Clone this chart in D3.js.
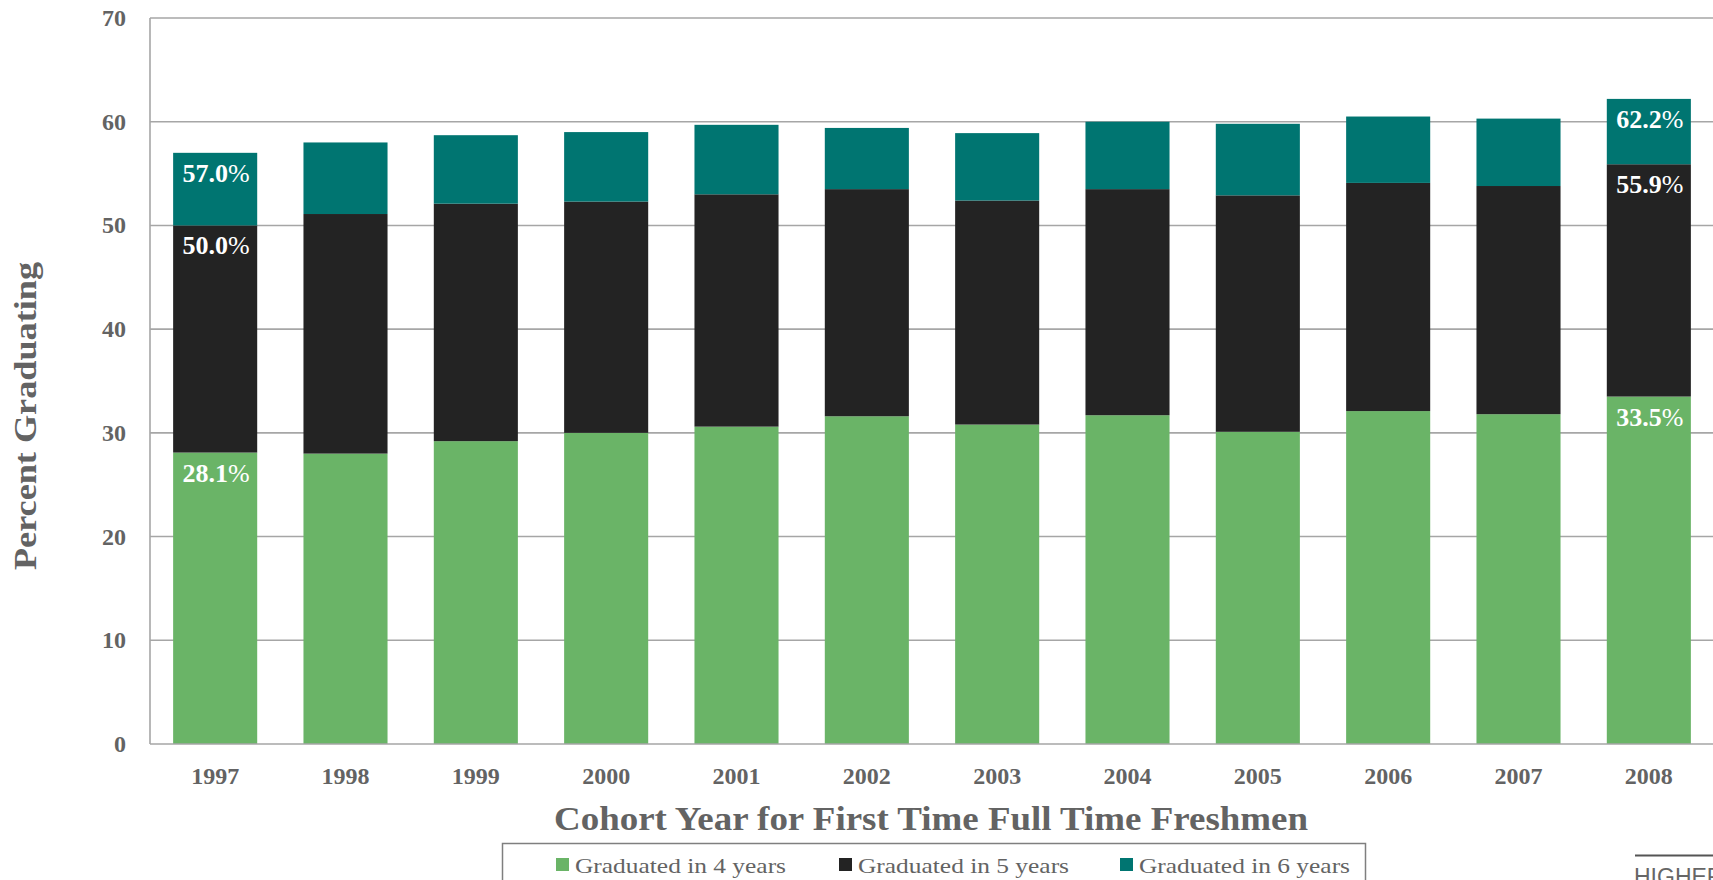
<!DOCTYPE html>
<html>
<head>
<meta charset="utf-8">
<script src="https://cdn.jsdelivr.net/npm/d3@7"></script>
<style>
  html, body { margin: 0; padding: 0; background: #fff; overflow: hidden; }
  svg { display: block; }
</style>
</head>
<body>
<svg id="chart" width="1713" height="880"></svg>
<script>
// ---- data (cumulative graduation rates, %) ----
const years = ["1997","1998","1999","2000","2001","2002","2003","2004","2005","2006","2007","2008"];
const grad4 = [28.1, 28.0, 29.2, 30.0, 30.6, 31.6, 30.8, 31.7, 30.1, 32.1, 31.8, 33.5];
const grad5 = [50.0, 51.1, 52.1, 52.3, 53.0, 53.5, 52.4, 53.5, 52.9, 54.1, 53.8, 55.9];
const grad6 = [57.0, 58.0, 58.7, 59.0, 59.7, 59.4, 58.9, 60.0, 59.8, 60.5, 60.3, 62.2];
const seriesNames = ["Graduated in 4 years", "Graduated in 5 years", "Graduated in 6 years"];
const yTicks = [0, 10, 20, 30, 40, 50, 60, 70];
const labelledYears = ["1997", "2008"];

(function () {
const colors = ["#6ab467", "#232323", "#007571"];
const gray = "#636363";
const gridColor = "#a6a6a6";
const serif = "'Liberation Serif', 'DejaVu Serif', serif";

const svg = d3.select("#chart");
const pLeft = 150, pRight = 1714, pTop = 18, pBottom = 744;

const x = d3.scaleBand().domain(years).range([pLeft, pRight]).paddingInner(0.355).paddingOuter(0.1775);
const y = d3.scaleLinear().domain([0, 70]).range([pBottom, pTop]);

// gridlines
svg.append("g").selectAll("line").data(yTicks.filter(d => d > 0)).join("line")
  .attr("x1", pLeft).attr("x2", 1713)
  .attr("y1", d => y(d)).attr("y2", d => y(d))
  .attr("stroke", gridColor).attr("stroke-width", 1.6);

// y tick labels
svg.append("g").selectAll("text").data(yTicks).join("text")
  .attr("x", 126).attr("y", d => y(d) + 8)
  .attr("text-anchor", "end")
  .attr("font-family", serif).attr("font-weight", "bold").attr("font-size", 24)
  .attr("fill", gray)
  .text(d => d);

// stacked bars
const series = [grad4, grad5, grad6];
series.forEach((vals, si) => {
  svg.append("g").selectAll("rect").data(years).join("rect")
    .attr("x", d => x(d))
    .attr("width", x.bandwidth())
    .attr("y", (d, i) => y(vals[i]))
    .attr("height", (d, i) => y(si === 0 ? 0 : series[si - 1][i]) - y(vals[i]))
    .attr("fill", colors[si]);
});

// axes lines
svg.append("line").attr("x1", pLeft).attr("x2", pLeft).attr("y1", pTop).attr("y2", pBottom)
  .attr("stroke", gridColor).attr("stroke-width", 1.6);
svg.append("line").attr("x1", pLeft).attr("x2", 1713).attr("y1", pBottom).attr("y2", pBottom)
  .attr("stroke", gridColor).attr("stroke-width", 1.6);

// value labels
series.forEach((vals, si) => {
  const g = svg.append("g");
  years.forEach((yr, i) => {
    if (!labelledYears.includes(yr)) return;
    const t = g.append("text")
      .attr("x", x(yr) + x.bandwidth() / 2 + 1)
      .attr("y", y(vals[i]) + 29)
      .attr("text-anchor", "middle")
      .attr("font-family", serif).attr("font-weight", "bold").attr("font-size", 26)
      .attr("fill", "#fff");
    t.append("tspan").text(vals[i].toFixed(1));
    t.append("tspan").attr("font-weight", "normal").text("%");
  });
});

// x tick labels
svg.append("g").selectAll("text").data(years).join("text")
  .attr("x", d => x(d) + x.bandwidth() / 2)
  .attr("y", 784)
  .attr("text-anchor", "middle")
  .attr("font-family", serif).attr("font-weight", "bold").attr("font-size", 24)
  .attr("fill", gray)
  .text(d => d);

// axis titles
svg.append("text")
  .attr("x", 931).attr("y", 830)
  .attr("text-anchor", "middle")
  .attr("font-family", serif).attr("font-weight", "bold").attr("font-size", 33)
  .attr("textLength", 754).attr("lengthAdjust", "spacingAndGlyphs")
  .attr("fill", gray)
  .text("Cohort Year for First Time Full Time Freshmen");

svg.append("text")
  .attr("transform", "translate(36,416) rotate(-90)")
  .attr("text-anchor", "middle")
  .attr("font-family", serif).attr("font-weight", "bold").attr("font-size", 31)
  .attr("textLength", 308).attr("lengthAdjust", "spacingAndGlyphs")
  .attr("fill", gray)
  .text("Percent Graduating");

// legend
const lg = svg.append("g");
lg.append("rect").attr("x", 502.5).attr("y", 843.5).attr("width", 863).attr("height", 60)
  .attr("fill", "none").attr("stroke", "#7f7f7f").attr("stroke-width", 1.5);
const legX = [556, 839, 1120];
seriesNames.forEach((name, i) => {
  lg.append("rect").attr("x", legX[i]).attr("y", 858).attr("width", 13).attr("height", 13)
    .attr("fill", colors[i]);
  lg.append("text").attr("x", legX[i] + 19).attr("y", 873)
    .attr("font-family", serif).attr("font-size", 21)
    .attr("textLength", 211).attr("lengthAdjust", "spacingAndGlyphs")
    .attr("fill", gray).text(name);
});

// cut-off footer mark (cut by the page edge, as in the reference)
svg.append("line").attr("x1", 1635).attr("x2", 1713).attr("y1", 855.5).attr("y2", 855.5)
  .attr("stroke", "#555").attr("stroke-width", 2);
svg.append("text").attr("x", 1634).attr("y", 885)
  .attr("font-family", "'Liberation Sans', Arial, sans-serif").attr("font-size", 23)
  .attr("fill", "#666").text("HIGHER EDUCATION");
})();
</script>
</body>
</html>
